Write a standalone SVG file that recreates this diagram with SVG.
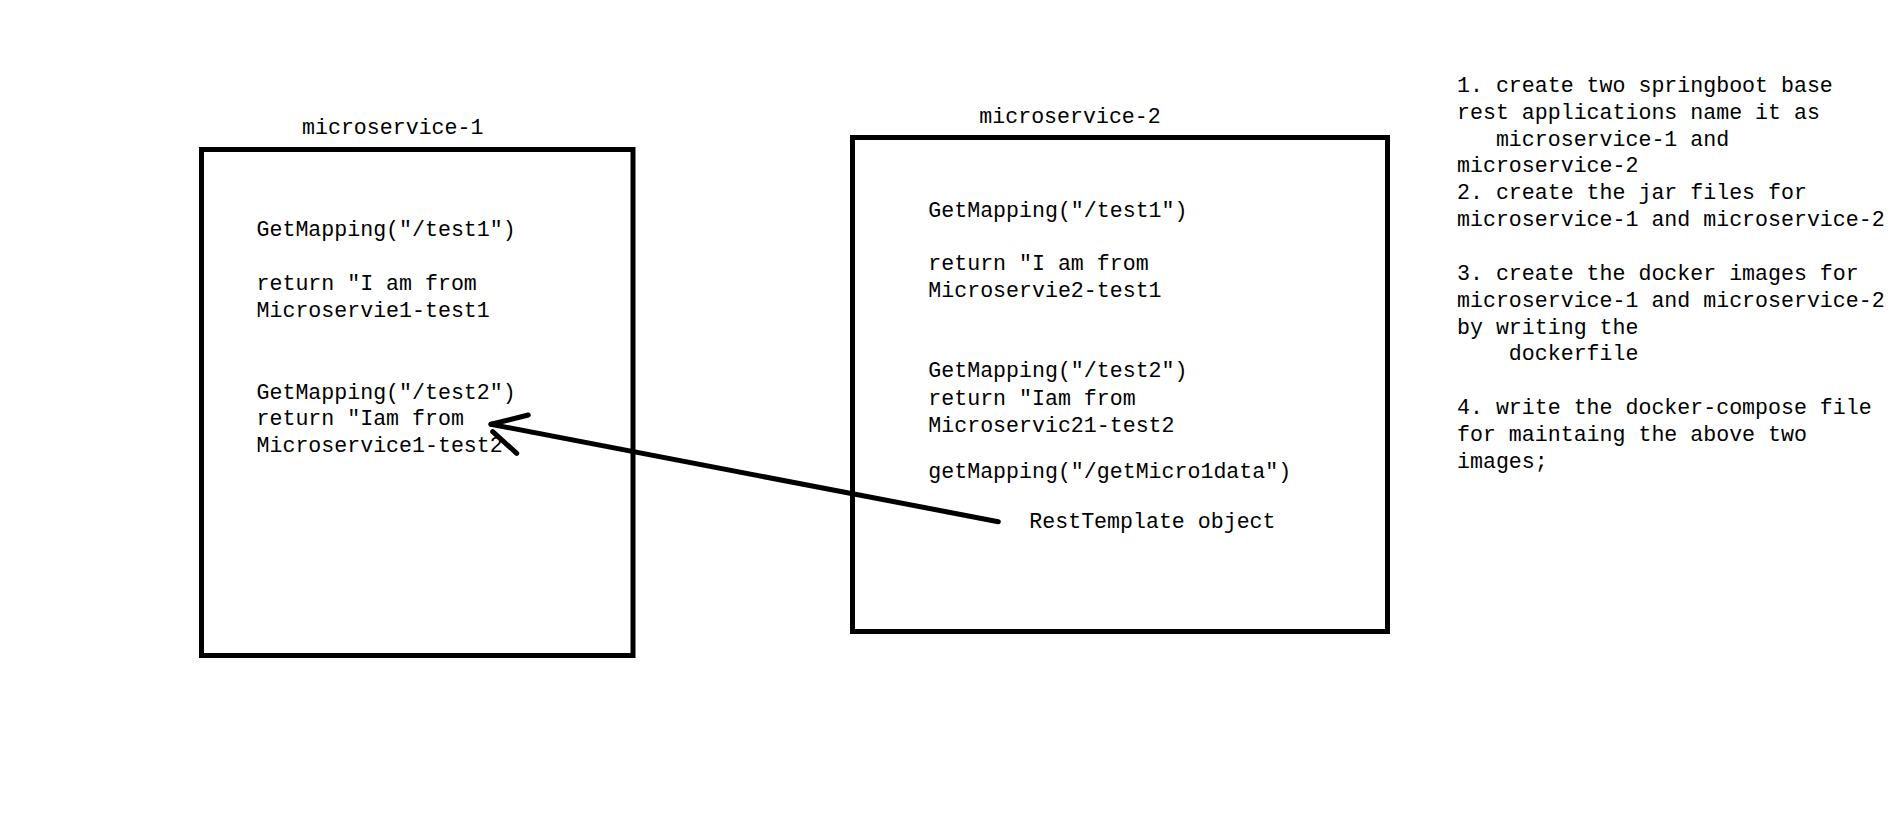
<svg xmlns="http://www.w3.org/2000/svg" width="1895" height="821" viewBox="0 0 1895 821">
<style>
text{font-family:"Liberation Mono","DejaVu Sans Mono",monospace;font-size:21.6px;fill:#000;white-space:pre}
.box{fill:none;stroke:#000;stroke-width:5}
.ln{fill:none;stroke:#000;stroke-width:5;stroke-linecap:round}
</style>
<rect width="1895" height="821" fill="#fff"/>
<g id="microservice-1">
<text x="302" y="134">microservice-1</text>
<rect class="box" x="201.5" y="149.5" width="431.5" height="506"/>
<text x="256.5" y="236">GetMapping("/test1")</text>
<text x="256.5" y="290">return "I am from</text>
<text x="256.5" y="316.7">Microservie1-test1</text>
<text x="256.5" y="399">GetMapping("/test2")</text>
<text x="256.5" y="425">return "Iam from</text>
<text x="256.5" y="451.7">Microservice1-test2</text>
</g>
<g id="microservice-2">
<text x="979.3" y="123.3">microservice-2</text>
<rect class="box" x="852.5" y="137.5" width="535" height="494"/>
<text x="928.3" y="216.7">GetMapping("/test1")</text>
<text x="928.3" y="270">return "I am from</text>
<text x="928.3" y="296.7">Microservie2-test1</text>
<text x="928.3" y="377.3">GetMapping("/test2")</text>
<text x="928.3" y="405">return "Iam from</text>
<text x="928.3" y="431.7">Microservic21-test2</text>
<text x="928.3" y="477.7">getMapping("/getMicro1data")</text>
<text x="1029.3" y="528.3">RestTemplate object</text>
</g>
<g id="steps">
<text x="1457" y="92">1. create two springboot base</text>
<text x="1457" y="118.8">rest applications name it as</text>
<text x="1457" y="145.6">   microservice-1 and</text>
<text x="1457" y="172.4">microservice-2</text>
<text x="1457" y="199.2">2. create the jar files for</text>
<text x="1457" y="226">microservice-1 and microservice-2</text>
<text x="1457" y="280">3. create the docker images for</text>
<text x="1457" y="306.8">microservice-1 and microservice-2</text>
<text x="1457" y="333.6">by writing the</text>
<text x="1457" y="360.4">    dockerfile</text>
<text x="1457" y="414">4. write the docker-compose file</text>
<text x="1457" y="440.8">for maintaing the above two</text>
<text x="1457" y="467.6">images;</text>
</g>
<g id="connectors">
<path class="ln" d="M998.3 521.7 L491 424.3"/>
<path class="ln" d="M528.3 415 L491 424.3"/>
<path class="ln" d="M492.7 431.7 L516.7 453.3"/>
</g>
</svg>
